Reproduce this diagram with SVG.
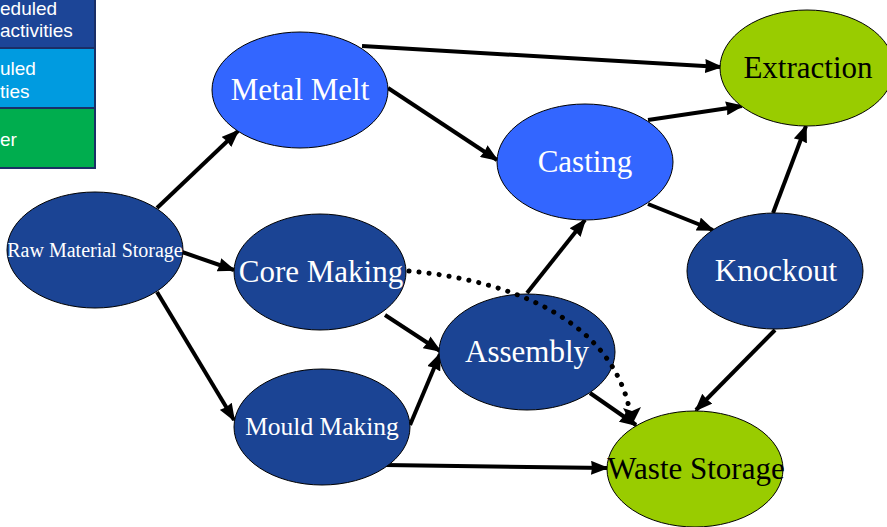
<svg xmlns="http://www.w3.org/2000/svg" width="887" height="527" viewBox="0 0 887 527">
<defs>
<marker id="ah" markerUnits="userSpaceOnUse" markerWidth="18" markerHeight="14" refX="16" refY="7" orient="auto">
<path d="M0,0 L18,7 L0,14 L1,7 Z" fill="#000"/>
</marker>
<style>
.dk{fill:#1b4494;stroke:#000;stroke-width:1}
.lb{fill:#3366ff;stroke:#000;stroke-width:1}
.gr{fill:#99cc00;stroke:#000;stroke-width:1}
.t{font-family:"Liberation Serif","Times New Roman",serif;fill:#fff;text-anchor:middle;font-size:31px}
.tb{font-family:"Liberation Serif","Times New Roman",serif;fill:#000;text-anchor:middle;font-size:31px}
.e{stroke:#000;stroke-width:4;fill:none;marker-end:url(#ah)}
.lg{font-family:"Liberation Sans",Arial,sans-serif;fill:#fff;font-size:19px}
</style>
</defs>
<rect width="887" height="527" fill="#fff"/>
<g id="legend">
<rect x="-2" y="-2" width="97" height="50" fill="#1c4597" stroke="#1a2f66" stroke-width="2"/>
<rect x="-2" y="48" width="97" height="60" fill="#009be0" stroke="#1a2f66" stroke-width="2"/>
<rect x="-2" y="108" width="97" height="60" fill="#00ad4e" stroke="#1a2f66" stroke-width="2"/>
<text class="lg" x="0" y="15">eduled</text>
<text class="lg" x="0" y="37">activities</text>
<text class="lg" x="0" y="75">uled</text>
<text class="lg" x="0" y="98">ties</text>
<text class="lg" x="0" y="146">er</text>
</g>
<g id="connectors">
<line class="e" x1="362" y1="46" x2="721" y2="67"/>
<line class="e" x1="388" y1="88" x2="497" y2="160"/>
<line class="e" x1="648" y1="120" x2="742" y2="106"/>
<line class="e" x1="648" y1="204" x2="713" y2="230"/>
<line class="e" x1="773" y1="213" x2="806" y2="126"/>
<line class="e" x1="775" y1="330" x2="696" y2="410"/>
<line class="e" x1="157" y1="208" x2="238" y2="131"/>
<line class="e" x1="182" y1="252" x2="234" y2="270"/>
<line class="e" x1="157" y1="292" x2="234" y2="420"/>
<line class="e" x1="385" y1="315" x2="440" y2="351"/>
<line class="e" x1="410" y1="425" x2="440" y2="354"/>
<line class="e" x1="527" y1="293" x2="585" y2="220"/>
<line class="e" x1="590" y1="393" x2="636" y2="425"/>
<line class="e" x1="385" y1="465" x2="607" y2="468"/>
</g>
<g id="raw"><ellipse class="dk" cx="95" cy="250" rx="88" ry="58"/><text class="t" x="95" y="257" style="font-size:20px">Raw Material Storage</text></g>
<g id="metal"><ellipse class="lb" cx="300" cy="90" rx="88" ry="58"/><text class="t" x="300" y="100">Metal Melt</text></g>
<g id="core"><ellipse class="dk" cx="320" cy="272" rx="86" ry="58"/><text class="t" x="321" y="282">Core Making</text></g>
<g id="mould"><ellipse class="dk" cx="322" cy="427" rx="88" ry="58"/><text class="t" x="322" y="435" style="font-size:25.5px">Mould Making</text></g>
<g id="assembly"><ellipse class="dk" cx="527" cy="352" rx="88" ry="58"/><text class="t" x="527" y="362">Assembly</text></g>
<g id="casting"><ellipse class="lb" cx="585" cy="162" rx="88" ry="58"/><text class="t" x="585" y="172">Casting</text></g>
<g id="extraction"><ellipse class="gr" cx="807" cy="68" rx="87" ry="58"/><text class="tb" x="808" y="78">Extraction</text></g>
<g id="knockout"><ellipse class="dk" cx="775" cy="271" rx="88" ry="58"/><text class="t" x="776" y="281">Knockout</text></g>
<g id="waste"><ellipse class="gr" cx="695" cy="469" rx="88" ry="58"/><text class="tb" x="696" y="479">Waste Storage</text></g>
<g id="dotted-connector">
<path d="M409,271 C490,278 610,310 630,412" stroke="#000" stroke-width="5" stroke-linecap="round" stroke-dasharray="0.1 10" fill="none"/>
<path d="M623,408 L632,425 L641,407 L632,411 Z" fill="#000"/>
</g>
</svg>
